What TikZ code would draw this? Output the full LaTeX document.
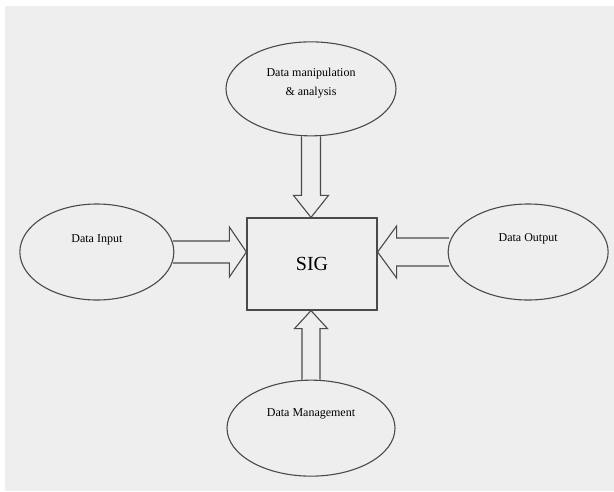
\documentclass[tikz,border=0pt]{standalone}
\usepackage{fontspec}
\setmainfont{Liberation Serif}
\usepackage{tikz}
\usetikzlibrary{calc}
\usetikzlibrary{positioning}
\usetikzlibrary{shapes.geometric}
\definecolor{paper}{HTML}{EEEEEE}
\definecolor{ink}{HTML}{4A4A4A}
\tikzset{
    block/.style={
           rectangle,
           draw=ink, line width=1.2pt,
           minimum width=130pt,
           minimum height=92pt,
           inner sep=2pt,
           text centered,
           font=\fontsize{20}{22}\selectfont,
           },
    oval/.style={
           ellipse,
           draw=ink, line width=1.1pt,
           inner sep=0pt,
           font=\fontsize{12}{15}\selectfont,
           },
    fat/.style={
           draw=ink, line width=1.1pt,
           line join=miter,
           },
}
% hollow block arrow: start, tip, half shaft, half head, head length
\newcommand{\fatarrow}[5]{%
  \draw[fat] ($(#1)!#3!90:(#2)$)
    -- ($($(#2)!#5!(#1)$)!#3!-90:(#1)$)
    -- ($($(#2)!#5!(#1)$)!#4!-90:(#1)$)
    -- (#2)
    -- ($($(#2)!#5!(#1)$)!#4!90:(#1)$)
    -- ($($(#2)!#5!(#1)$)!#3!90:(#1)$)
    -- ($(#1)!#3!-90:(#2)$);
}

\begin{document}
\begin{tikzpicture}[x=1pt, y=-1pt]
	\useasboundingbox (0,0) rectangle (614,491);
	\fill[paper] (5,6) rectangle (614,491);

	\node[block] (sig) at (312,264) {SIG};

	\node[oval, minimum width=170pt, minimum height=94pt, above=81pt of sig, xshift=-1pt,
		label={[yshift=6pt, font=\fontsize{12}{15}\selectfont, align=center]center:Data manipulation\\[4pt]\& analysis}] (manip) {};

	\node[oval, minimum width=154pt, minimum height=96pt, left=72pt of sig, yshift=12pt,
		label={[yshift=12pt, font=\fontsize{12}{15}\selectfont]center:Data Input}] (input) {};

	\node[oval, minimum width=160pt, minimum height=96pt, right=70pt of sig, yshift=12pt,
		label={[yshift=13pt, font=\fontsize{12}{15}\selectfont]center:Data Output}] (output) {};

	\node[oval, minimum width=168pt, minimum height=96pt, below=69pt of sig, xshift=-1pt,
		label={[yshift=14pt, font=\fontsize{12}{15}\selectfont]center:Data Management}] (manage) {};

	\coordinate (tipT) at (sig.north -| manip.south);
	\coordinate (tipL) at (sig.west |- input.east);
	\coordinate (tipR) at (sig.east |- output.west);
	\coordinate (tipB) at (sig.south -| manage.north);

	\fatarrow{manip.south}{tipT}{9.5pt}{17.5pt}{22pt}
	\fatarrow{$(input.east)+(-1.5pt,0)$}{tipL}{11pt}{25pt}{17pt}
	\fatarrow{$(output.west)+(1.5pt,0)$}{tipR}{14pt}{26pt}{19pt}
	\fatarrow{manage.north}{tipB}{9pt}{16.5pt}{18pt}

\end{tikzpicture}
\end{document}
